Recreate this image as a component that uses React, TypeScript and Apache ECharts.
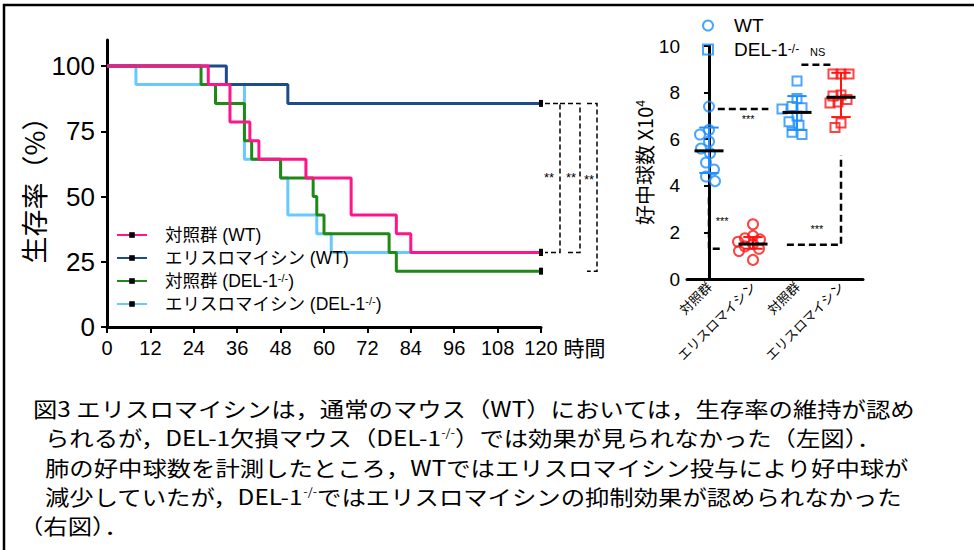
import React, { useEffect, useRef } from 'react';
import * as echarts from 'echarts';

// ---- Survival (Kaplan–Meier) data: [hour, % survival] ----
const ctrlWT = [[0, 100], [28, 92.9], [34, 78.6], [39.5, 71.4], [42, 64.3], [55, 57.1], [67.5, 42.9], [80, 35.7], [84, 28.6], [120, 28.6]];
const eryWT = [[0, 100], [33, 92.9], [50, 85.7], [120, 85.7]];
const ctrlDEL = [[0, 100], [26, 92.9], [30, 85.7], [38, 71.4], [40, 64.3], [48, 57.1], [57, 50], [58, 42.9], [60, 35.7], [78, 28.6], [80, 21.4], [120, 21.4]];
const eryDEL = [[0, 100], [8, 92.9], [38, 64.3], [48, 57.1], [50, 42.9], [58, 35.7], [62, 28.6], [120, 28.6]];
const survivalYTicks = [0, 25, 50, 75, 100];

// ---- Neutrophil counts (x10^4) ----
const neutroCategories = ['対照群', 'エリスロマイシン', '対照群', 'エリスロマイシン'];
const wtCtrlCounts = [7.4, 6.4, 6.2, 5.9, 5.6, 5.4, 5.0, 4.7, 4.4, 4.2];
const wtEryCounts = [2.35, 1.85, 1.75, 1.7, 1.6, 1.5, 1.4, 1.3, 1.2, 0.82];
const delCtrlCounts = [8.5, 7.75, 7.4, 7.35, 7.3, 7.0, 6.75, 6.6, 6.3, 6.2];
const delEryCounts = [8.8, 8.8, 8.8, 7.9, 7.85, 7.7, 7.6, 7.55, 6.7, 6.5];
const groupMedians = [5.5, 1.5, 7.15, 7.8];
const whiskerLow = [4.55, 1.3, 6.4, 6.95];
const whiskerHigh = [6.5, 1.8, 7.85, 8.85];

// ---- Caption ----
const captionLines = [
  '図3 エリスロマイシンは，通常のマウス（WT）においては，生存率の維持が認め',
  'られるが，DEL-1欠損マウス（DEL-1{sup|-/-}）では効果が見られなかった（左図）．',
  '肺の好中球数を計測したところ，WTではエリスロマイシン投与により好中球が',
  '減少していたが，DEL-1{sup|-/-}ではエリスロマイシンの抑制効果が認められなかった',
  '（右図）．',
];

const LATIN = "'Liberation Sans', Arial, 'Noto Sans CJK JP', sans-serif";
const CJK = "'Noto Sans CJK JP', 'Noto Sans CJK SC', sans-serif";
const BLUE = '#1e8fff';
const RED = '#ff1414';

// simple beeswarm layout (pixel space) to spread overlapping points
function swarm(values: number[], cat: number, unitPx: number, catPx: number, d: number) {
  const sorted = values.slice().sort((a, b) => b - a);
  const placed: { x: number; y: number }[] = [];
  const out: number[][] = [];
  for (const v of sorted) {
    const y = v * unitPx;
    let chosen = 0;
    for (let k = 0; k < 80; k++) {
      const dx = k === 0 ? 0 : (k % 2 ? -1 : 1) * Math.ceil(k / 2);
      if (placed.every((p) => Math.hypot(p.x - dx, p.y - y) >= d)) {
        chosen = dx;
        break;
      }
    }
    placed.push({ x: chosen, y });
    out.push([cat + chosen / catPx, v]);
  }
  return out;
}

export default function App() {
  const ref = useRef<HTMLDivElement>(null);
  useEffect(() => {
    const chart = echarts.init(ref.current as HTMLDivElement, null, { renderer: 'svg' });

    const survival = [
      { id: 'eryDEL', data: eryDEL, color: '#66c9ff', label: 'エリスロマイシン (DEL-1{sup|-/-})' },
      { id: 'ctrlDEL', data: ctrlDEL, color: '#1e8a14', label: '対照群 (DEL-1{sup|-/-})' },
      { id: 'eryWT', data: eryWT, color: '#1b4c8c', label: 'エリスロマイシン (WT)' },
      { id: 'ctrlWT', data: ctrlWT, color: '#ff148a', label: '対照群 (WT)' },
    ];
    const labelMap: Record<string, string> = {};
    survival.forEach((s) => (labelMap[s.id] = s.label));

    const lineSeries = survival.map((s) => ({
      name: s.id,
      type: 'line',
      step: 'end',
      xAxisIndex: 0,
      yAxisIndex: 0,
      symbol: 'rect',
      symbolSize: [4, 7],
      showSymbol: true,
      itemStyle: { color: '#000' },
      lineStyle: { color: s.color, width: 3 },
      data: s.data.map((p, i) => (i === s.data.length - 1 ? { value: p } : { value: p, symbol: 'none' })),
    }));

    const unitPx = 233 / 10;
    const catPx = 176 / 4;
    const scatterDefs = [
      { name: 'WT', vals: wtCtrlCounts, cat: 0, color: BLUE, symbol: 'circle', size: 10, d: 10 },
      { name: 'WT-ery', vals: wtEryCounts, cat: 1, color: RED, symbol: 'circle', size: 10, d: 7.5 },
      { name: 'DEL', vals: delCtrlCounts, cat: 2, color: BLUE, symbol: 'rect', size: 9, d: 9.5 },
      { name: 'DEL-ery', vals: delEryCounts, cat: 3, color: RED, symbol: 'rect', size: 9, d: 7.5 },
    ];
    const groupColors = scatterDefs.map((s) => s.color);
    const scatterSeries = scatterDefs.map((s) => ({
      name: s.name,
      type: 'scatter',
      xAxisIndex: 1,
      yAxisIndex: 1,
      symbol: s.symbol,
      symbolSize: s.size,
      itemStyle: { color: 'rgba(0,0,0,0)', borderColor: s.color, borderWidth: 2 },
      data: swarm(s.vals, s.cat, unitPx, catPx, s.d),
      z: 3,
    }));

    const summarySeries = {
      type: 'custom',
      xAxisIndex: 1,
      yAxisIndex: 1,
      z: 5,
      data: groupMedians.map((m, i) => [i, m, whiskerLow[i], whiskerHigh[i]]),
      renderItem: (params: any, api: any) => {
        const i = api.value(0);
        const pMed = api.coord([i, api.value(1)]);
        const pLo = api.coord([i, api.value(2)]);
        const pHi = api.coord([i, api.value(3)]);
        const w = api.size([1, 0])[0];
        const c = groupColors[params.dataIndex];
        const st = { stroke: c, lineWidth: 2 };
        return {
          type: 'group',
          children: [
            { type: 'line', shape: { x1: pLo[0], y1: pLo[1], x2: pHi[0], y2: pHi[1] }, style: st },
            { type: 'line', shape: { x1: pLo[0] - w * 0.22, y1: pLo[1], x2: pLo[0] + w * 0.22, y2: pLo[1] }, style: st },
            { type: 'line', shape: { x1: pHi[0] - w * 0.22, y1: pHi[1], x2: pHi[0] + w * 0.22, y2: pHi[1] }, style: st },
            { type: 'line', shape: { x1: pMed[0] - w * 0.33, y1: pMed[1], x2: pMed[0] + w * 0.33, y2: pMed[1] }, style: { stroke: '#000', lineWidth: 3 } },
          ],
        };
      },
    };

    const axisLine = { show: true, lineStyle: { color: '#000', width: 3 } };

    chart.setOption({
      animation: false,
      backgroundColor: '#fff',
      grid: [
        { left: 107, top: 40, width: 434, height: 287 },
        { left: 687, top: 46, width: 176, height: 233 },
      ],
      xAxis: [
        {
          gridIndex: 0,
          type: 'value',
          min: 0,
          max: 120,
          interval: 12,
          axisLine,
          axisTick: { show: true, length: 6, lineStyle: { color: '#000', width: 2 } },
          axisLabel: { color: '#000', fontSize: 20, fontFamily: LATIN, margin: 11 },
          splitLine: { show: false },
          name: '時間',
          nameLocation: 'end',
          nameGap: 14,
          nameTextStyle: { color: '#000', fontSize: 21, fontFamily: CJK, verticalAlign: 'top', padding: [10, 0, 0, 0] },
        },
        {
          gridIndex: 1,
          type: 'value',
          min: -0.5,
          max: 3.5,
          axisLine,
          axisTick: { show: false },
          axisLabel: {
            customValues: [0, 1, 2, 3],
            formatter: (v: number) => neutroCategories[Math.round(v)] || '',
            rotate: 45,
            color: '#000',
            fontSize: 13,
            fontFamily: CJK,
            margin: 5,
          },
          splitLine: { show: false },
        },
      ],
      yAxis: [
        {
          gridIndex: 0,
          type: 'value',
          min: 0,
          max: 110,
          axisLine,
          axisTick: { show: true, length: 6, customValues: survivalYTicks, lineStyle: { color: '#000', width: 2 } },
          axisLabel: { customValues: survivalYTicks, color: '#000', fontSize: 26, fontFamily: LATIN, margin: 12 },
          splitLine: { show: false },
          name: '生存率（%）',
          nameLocation: 'middle',
          nameGap: 60,
          nameRotate: 90,
          nameTextStyle: { color: '#000', fontSize: 27, fontFamily: CJK },
        },
        {
          gridIndex: 1,
          type: 'value',
          min: 0,
          max: 10,
          interval: 2,
          axisLine,
          axisTick: { show: true, length: 5, lineStyle: { color: '#000', width: 2 } },
          axisLabel: { color: '#000', fontSize: 19, fontFamily: LATIN, margin: 7 },
          splitLine: { show: false },
          name: '好中球数 X10{sup|4}',
          nameLocation: 'middle',
          nameGap: 30,
          nameRotate: 90,
          nameTextStyle: {
            color: '#000',
            fontSize: 20,
            fontFamily: CJK,
            rich: { sup: { fontSize: 12, fontFamily: LATIN, verticalAlign: 'top', lineHeight: 12, color: '#000' } },
          },
        },
      ],
      legend: [
        {
          orient: 'vertical',
          left: 111,
          top: 221,
          itemWidth: 30,
          itemHeight: 7,
          itemGap: 5,
          selectedMode: false,
          data: ['ctrlWT', 'eryWT', 'ctrlDEL', 'eryDEL'],
          formatter: (n: string) => labelMap[n],
          textStyle: {
            color: '#000',
            fontSize: 17.5,
            fontFamily: LATIN,
            lineHeight: 18,
            padding: [0, 0, 0, 13],
            rich: { sup: { fontSize: 11, fontFamily: LATIN, verticalAlign: 'top', lineHeight: 10, color: '#000' } },
          },
        },
        {
          orient: 'vertical',
          left: 697,
          top: 11,
          itemWidth: 10,
          itemHeight: 10,
          itemGap: 5,
          selectedMode: false,
          data: [
            { name: 'WT', icon: 'circle', itemStyle: { color: 'rgba(0,0,0,0)', borderColor: BLUE, borderWidth: 2 } },
            { name: 'DEL', icon: 'rect', itemStyle: { color: 'rgba(0,0,0,0)', borderColor: BLUE, borderWidth: 2 } },
          ],
          formatter: (n: string) => (n === 'WT' ? 'WT' : 'DEL-1{sup|-/-}'),
          textStyle: {
            color: '#000',
            fontSize: 19,
            fontFamily: LATIN,
            lineHeight: 14,
            padding: [0, 0, 0, 16],
            rich: { sup: { fontSize: 12, fontFamily: LATIN, verticalAlign: 'top', lineHeight: 8, color: '#000' } },
          },
        },
      ],
      series: [...lineSeries, ...scatterSeries, summarySeries],
    });

    // ---- annotations (positions derived from axes) ----
    const toL = (p: number[]) => chart.convertToPixel({ gridIndex: 0 }, p) as number[];
    const toR = (p: number[]) => chart.convertToPixel({ gridIndex: 1 }, p) as number[];
    const last = (a: number[][]) => a[a.length - 1];
    const top = toL(last(eryWT));
    const pink = toL(last(ctrlWT));
    const green = toL(last(ctrlDEL));
    const x0 = top[0];
    const dashL = { stroke: '#000', lineWidth: 1.5, lineDash: [5, 3], fill: 'none' };
    const star = (x: number, y: number, t: string, size = 12) => ({
      type: 'text',
      x,
      y,
      style: { text: t, fill: '#000', fontSize: size, fontFamily: LATIN, align: 'center', verticalAlign: 'middle' },
    });
    const midTP = (top[1] + pink[1]) / 2;
    const midTG = (top[1] + green[1]) / 2;
    const leftAnn = [
      { type: 'polyline', shape: { points: [[x0 + 4, top[1]], [x0 + 19, top[1]], [x0 + 19, pink[1]], [x0 + 4, pink[1]]] }, style: dashL },
      { type: 'polyline', shape: { points: [[x0 + 19, top[1]], [x0 + 39, top[1]], [x0 + 39, pink[1]], [x0 + 25, pink[1]]] }, style: dashL },
      { type: 'polyline', shape: { points: [[x0 + 46, top[1]], [x0 + 56, top[1]], [x0 + 56, green[1]], [x0 + 46, green[1]]] }, style: dashL },
      star(x0 + 8, midTP, '**', 13),
      star(x0 + 30, midTP, '**', 13),
      star(x0 + 48, midTG - 8, '**', 13),
    ];

    const sig = [
      { pts: [[0.2, 7.3], [1.35, 7.3]], label: '***', at: [0.89, 6.85] },
      { pts: [[2.1, 9.2], [2.82, 9.2]], label: 'NS', at: [2.47, 9.75] },
      { pts: [[0, 3.5], [0, 1.3], [0.32, 1.3]], label: '***', at: [0.3, 2.5] },
      { pts: [[1.77, 1.47], [3.0, 1.47], [3.0, 5.3]], label: '***', at: [2.45, 2.15] },
    ];
    const dashR = { stroke: '#000', lineWidth: 2.5, lineDash: [7, 4], fill: 'none' };
    const rightAnn: any[] = [];
    sig.forEach((s) => {
      rightAnn.push({ type: 'polyline', shape: { points: s.pts.map(toR) }, style: dashR });
      const p = toR(s.at);
      rightAnn.push(star(p[0], p[1], s.label, 11));
    });

    const caption = captionLines.map((t, i) => ({
      type: 'text',
      x: i === 0 ? 33 : i === 4 ? 19 : 45,
      y: 408 + i * 29.4,
      scaleX: 1.16,
      style: {
        text: t,
        fill: '#000',
        fontSize: 21,
        fontFamily: CJK,
        align: 'left',
        verticalAlign: 'middle',
        rich: { sup: { fontSize: 11, fontFamily: CJK, verticalAlign: 'top', lineHeight: 10, fill: '#000' } },
      },
    }));

    const frame = {
      type: 'rect',
      shape: { x: 4, y: 5, width: 1200, height: 800 },
      style: { fill: 'none', stroke: '#000', lineWidth: 2.5 },
      silent: true,
    };

    chart.setOption({ graphic: { elements: [frame, ...leftAnn, ...rightAnn, ...caption] } });

    return () => chart.dispose();
  }, []);

  return (
    <div
      ref={ref}
      style={{ position: 'fixed', left: 0, top: 0, width: 974, height: 550, background: '#fff' }}
    />
  );
}
